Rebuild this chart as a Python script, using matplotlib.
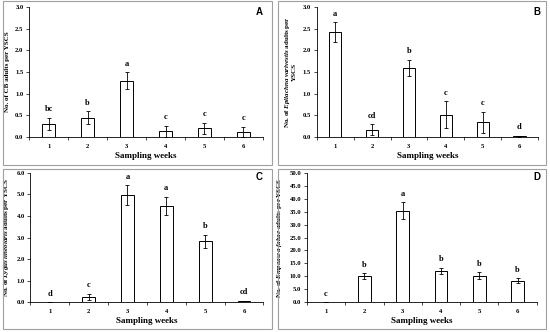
import numpy as np
import matplotlib.pyplot as plt
from matplotlib.patches import Rectangle

plt.rcParams['font.family'] = 'Liberation Serif'
plt.rcParams['font.weight'] = 'bold'
plt.rcParams['mathtext.fontset'] = 'custom'
plt.rcParams['mathtext.rm'] = 'Liberation Serif:bold'
plt.rcParams['mathtext.it'] = 'Liberation Serif:italic:bold'

weeks = ['1', '2', '3', '4', '5', '6']

cb_mean = [0.30, 0.45, 1.30, 0.13, 0.20, 0.12]
cb_err = [0.14, 0.15, 0.19, 0.13, 0.13, 0.12]
cb_letters = ['bc', 'b', 'a', 'c', 'c', 'c']

ev_mean = [2.42, 0.17, 1.60, 0.52, 0.34, 0.02]
ev_err = [0.23, 0.13, 0.18, 0.31, 0.24, 0.01]
ev_letters = ['a', 'cd', 'b', 'c', 'c', 'd']

ll_mean = [0.0, 0.25, 4.98, 4.47, 2.82, 0.05]
ll_err = [0.0, 0.15, 0.45, 0.43, 0.30, 0.02]
ll_letters = ['d', 'c', 'a', 'a', 'b', 'cd']

ef_mean = [0.0, 10.0, 35.3, 12.0, 10.3, 8.3]
ef_err = [0.0, 1.2, 3.3, 1.3, 1.2, 0.9]
ef_letters = ['c', 'b', 'a', 'b', 'b', 'b']

panels = [
    ('A', cb_mean, cb_err, cb_letters, 3.0, 0.5, 'No. of CB adults per YSCS'),
    ('B', ev_mean, ev_err, ev_letters, 3.0, 0.5,
     'No. of $\\mathit{Epilachna}$ $\\mathit{varivestis}$ adults per\nYSCS'),
    ('C', ll_mean, ll_err, ll_letters, 6.0, 1.0,
     'No. of $\\mathit{Lygus}$ $\\mathit{lineolaris}$ adults per YSCS'),
    ('D', ef_mean, ef_err, ef_letters, 50.0, 5.0,
     'No. of $\\mathit{Empoasca}$ $\\mathit{fabae}$ adults per YSCS'),
]

# axes positions [left, bottom, width, height] in figure fraction
ax_pos = [
    [0.053, 0.587, 0.425, 0.392],
    [0.576, 0.587, 0.402, 0.392],
    [0.055, 0.090, 0.424, 0.389],
    [0.558, 0.090, 0.418, 0.389],
]
box_pos = [
    [0.005, 0.503, 0.489, 0.494],
    [0.505, 0.503, 0.488, 0.494],
    [0.005, 0.008, 0.489, 0.484],
    [0.505, 0.008, 0.488, 0.484],
]
tag_pos = [(0.471, 0.965), (0.976, 0.965), (0.471, 0.466), (0.976, 0.466)]

fig = plt.figure(figsize=(5.5, 3.32), dpi=100)

for (tag, mean, err, letters, ymax, step, ylab), pos, bpos, tpos in zip(panels, ax_pos, box_pos, tag_pos):
    fig.patches.append(Rectangle((bpos[0], bpos[1]), bpos[2], bpos[3],
                                 transform=fig.transFigure, fill=False,
                                 edgecolor='#a0a0a0', linewidth=0.8))
    ax = fig.add_axes(pos)
    x = np.arange(len(weeks))
    ax.bar(x, mean, width=0.33, color='white', edgecolor='black', linewidth=0.7,
           yerr=err, error_kw=dict(ecolor='black', elinewidth=0.6, capsize=1.2, capthick=0.6))
    for xi, m, e, lab in zip(x, mean, err, letters):
        ax.text(xi, m + e + ymax * 0.035, lab, ha='center', va='bottom', fontsize=6)
    ax.set_xlim(-0.5, 5.5)
    ax.set_ylim(0, ymax)
    ax.set_yticks(np.arange(0, ymax + step / 2, step))
    ax.yaxis.set_major_formatter(plt.FormatStrFormatter('%.1f'))
    ax.set_xticks(x)
    ax.set_xticklabels(weeks)
    ax.set_xticks(np.arange(-0.5, 6, 1), minor=True)
    ax.tick_params(axis='x', which='major', length=0, labelsize=4.8, pad=5)
    ax.tick_params(axis='x', which='minor', length=2, width=0.5)
    ax.tick_params(axis='y', length=2, width=0.5, labelsize=4.8, pad=2)
    for s in ['top', 'right']:
        ax.spines[s].set_visible(False)
    for s in ['left', 'bottom']:
        ax.spines[s].set_linewidth(0.6)
    ax.set_xlabel('Sampling weeks', fontsize=6.5, fontweight='bold', labelpad=2)
    ax.set_ylabel(ylab, fontsize=5.0, fontweight='bold', labelpad=4)
    fig.text(tpos[0], tpos[1], tag, ha='center', va='center',
             fontsize=7, fontweight='bold', family='Liberation Sans')

fig.savefig('out.png', dpi=100)
